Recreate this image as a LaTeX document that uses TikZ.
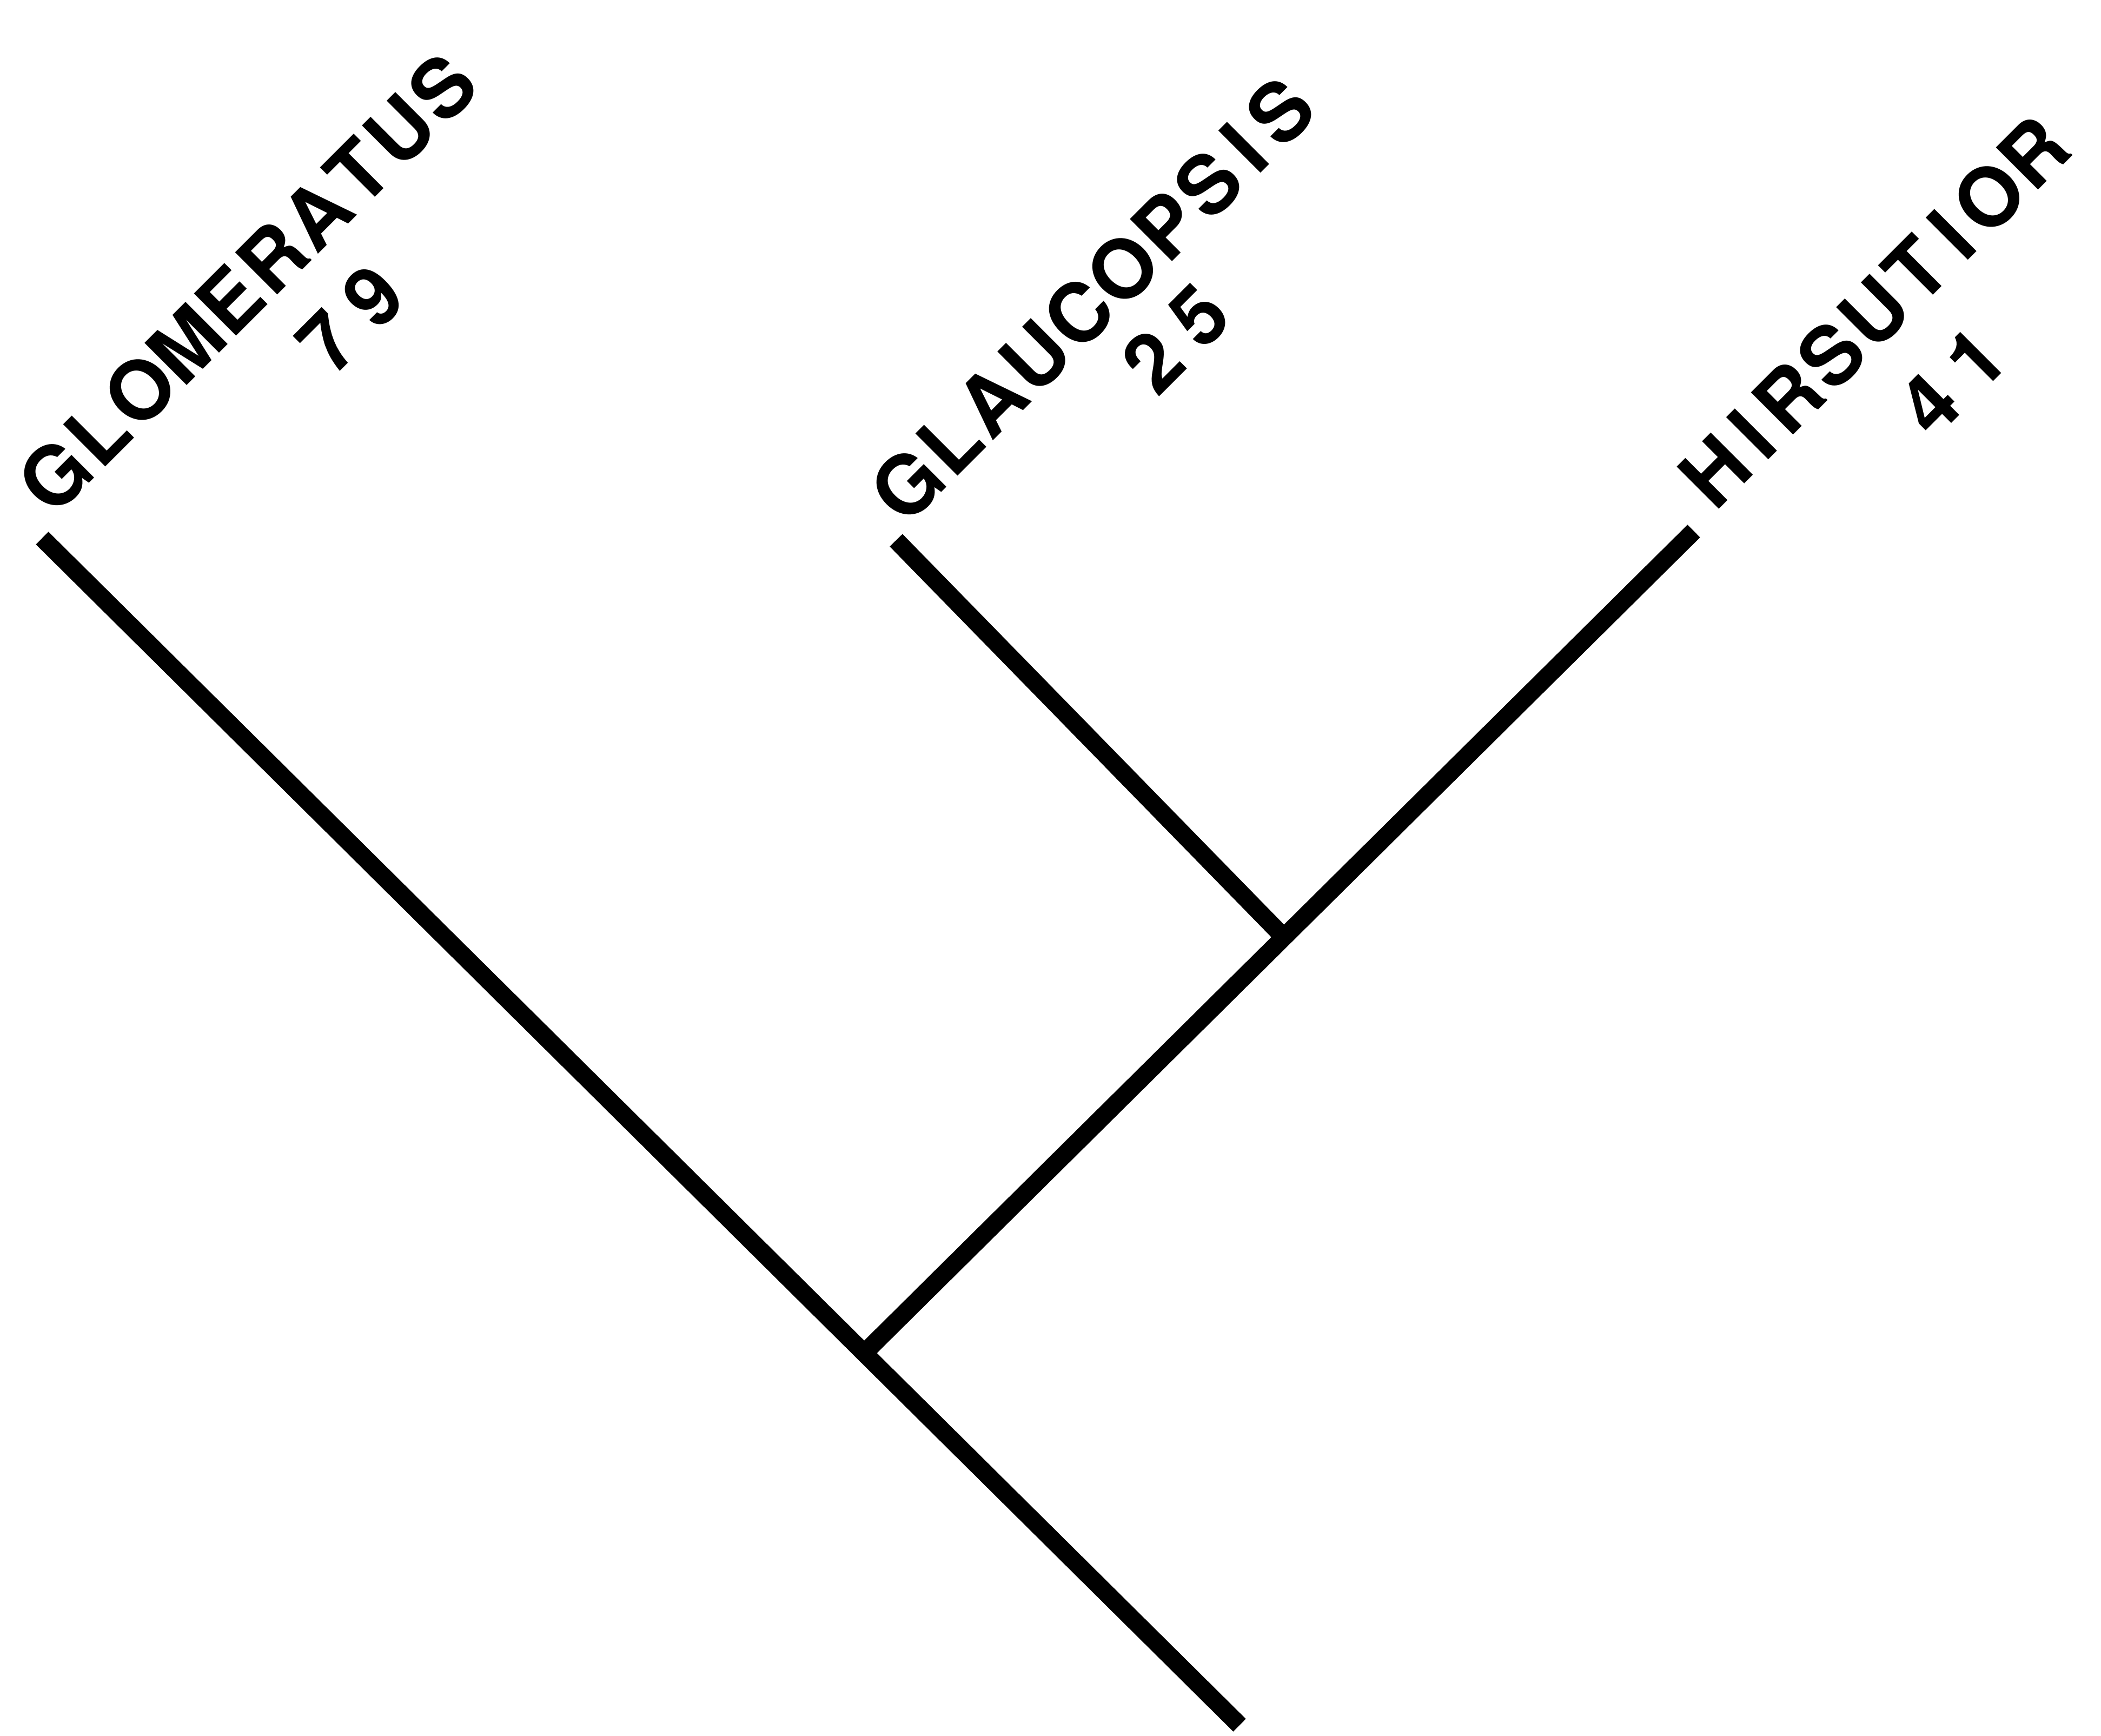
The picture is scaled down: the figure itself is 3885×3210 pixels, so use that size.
\documentclass[tikz,border=0pt]{standalone}
\usepackage{fontspec}
\newfontface\labfont{TeX Gyre Heros Bold}
\makeatletter
\newlength\trkw
\newcommand\trk[2]{\@tfor\trkch:=#2\do{\settowidth\trkw{\trkch}\makebox[\dimexpr\trkw/2+#1\relax][c]{\trkch}}}
\makeatother
\tikzset{
  branch/.style={line width=0.33cm, line cap=butt, black},
  taxon/.style={rotate=45, inner sep=0pt, anchor=base west, font=\labfont\fontsize{43pt}{43pt}\selectfont},
  count/.style={rotate=45, inner sep=0pt, anchor=center, font=\labfont\fontsize{43pt}{43pt}\selectfont}
}
\begin{document}
\begin{tikzpicture}[x=0.01cm, y=-0.01cm]
  \useasboundingbox[fill=white] (0,0) rectangle (3885,3210);
  % tree points
  \coordinate (A) at (78,995);
  \coordinate (B) at (1657,999);
  \coordinate (C) at (3132,982);
  \coordinate (R) at (2292,3190);
  \coordinate (J1) at (1598,2502);
  \coordinate (J2) at (2374,1733);
  \draw[branch] (A) -- (R);
  \draw[branch] (J1) -- (C);
  \draw[branch] (B) -- (J2);
  % labels
  \node[taxon] (glom) at (98,960) {\trk{0.59cm}{GLOMERATUS}};
  \node[taxon] (glau) at (1674,977) {\trk{0.59cm}{GLAUCOPSIS}};
  \node[taxon] (hirs) at (3169,951) {\trk{0.59cm}{HIRSUTIOR}};
  \node[count] (n79) at (648,590) {\trk{0.78cm}{79}};
  \node[count] (n25) at (2174,626) {\trk{0.78cm}{25}};
  \node[count] (n41) at (3610,705) {\trk{0.78cm}{41}};
\end{tikzpicture}
\end{document}
